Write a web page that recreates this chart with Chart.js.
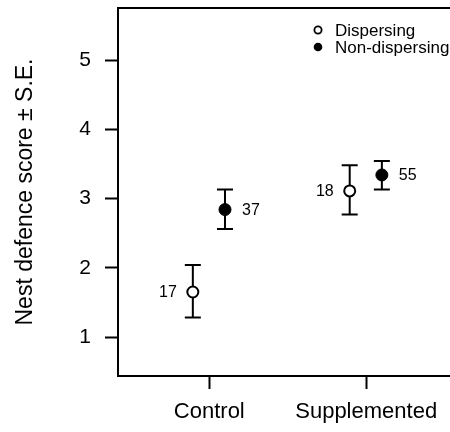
<!DOCTYPE html>
<html>
<head>
<meta charset="utf-8">
<script src="https://cdn.jsdelivr.net/npm/chart.js@4/dist/chart.umd.min.js"></script>
<style>
html,body{margin:0;padding:0;background:#fff;overflow:hidden;}
#wrap{width:450px;height:432px;position:relative;overflow:hidden;}
</style>
</head>
<body>
<div id="wrap"><canvas id="c" width="470" height="432"></canvas></div>
<script>
const categories = ['Control', 'Supplemented'];
const seriesNames = ['Dispersing', 'Non-dispersing'];
const dispersingMean = [1.65, 3.11];
const dispersingLow = [1.28, 2.77];
const dispersingHigh = [2.04, 3.48];
const dispersingN = [17, 18];
const nonDispersingMean = [2.84, 3.34];
const nonDispersingLow = [2.56, 3.13];
const nonDispersingHigh = [3.13, 3.54];
const nonDispersingN = [37, 55];
const yTicks = [1, 2, 3, 4, 5];

const FONT = "'Liberation Sans', Arial, sans-serif";
const dodge = [-0.105, 0.1];

function build(mean, low, high, n, k) {
  return categories.map((c, i) => ({ x: i + 1 + dodge[k], y: mean[i], low: low[i], high: high[i], n: n[i] }));
}
function zeroPad(s) { s.paddingTop = 0; s.paddingBottom = 0; s.paddingLeft = 0; s.paddingRight = 0; }

const errorPlugin = {
  id: 'errs',
  beforeDatasetsDraw(chart) {
    const ctx = chart.ctx, xs = chart.scales.x, ys = chart.scales.y;
    ctx.save();
    ctx.strokeStyle = '#000';
    ctx.lineWidth = 2;
    chart.data.datasets.forEach(ds => {
      ds.data.forEach(p => {
        const px = xs.getPixelForValue(p.x);
        const yl = ys.getPixelForValue(p.low), yh = ys.getPixelForValue(p.high);
        ctx.beginPath();
        ctx.moveTo(px, yl); ctx.lineTo(px, yh);
        ctx.moveTo(px - 8, yl); ctx.lineTo(px + 8, yl);
        ctx.moveTo(px - 8, yh); ctx.lineTo(px + 8, yh);
        ctx.stroke();
      });
    });
    ctx.restore();
  },
  afterDatasetsDraw(chart) {
    const ctx = chart.ctx, xs = chart.scales.x, ys = chart.scales.y, ca = chart.chartArea;
    ctx.save();
    ctx.strokeStyle = '#000';
    ctx.lineWidth = 2;
    ctx.beginPath();
    ctx.moveTo(ca.left - 1, ca.top);
    ctx.lineTo(ca.right + 2, ca.top);
    ctx.stroke();
    ctx.fillStyle = '#000';
    ctx.font = '16px ' + FONT;
    ctx.textBaseline = 'middle';
    chart.data.datasets.forEach((ds, k) => {
      ds.data.forEach(p => {
        const px = xs.getPixelForValue(p.x), py = ys.getPixelForValue(p.y);
        if (k === 0) { ctx.textAlign = 'right'; ctx.fillText(String(p.n), px - 16, py + 1); }
        else { ctx.textAlign = 'left'; ctx.fillText(String(p.n), px + 17, py + 1); }
      });
    });
    ctx.font = '17px ' + FONT;
    ctx.textAlign = 'left';
    const lx = 318, ly = [30, 47];
    chart.data.datasets.forEach((ds, k) => {
      ctx.beginPath();
      ctx.arc(lx, ly[k], k === 0 ? 3.6 : 4.3, 0, Math.PI * 2);
      if (k === 0) { ctx.fillStyle = '#fff'; ctx.fill(); ctx.lineWidth = 1.8; ctx.strokeStyle = '#000'; ctx.stroke(); }
      else { ctx.fillStyle = '#000'; ctx.fill(); }
      ctx.fillStyle = '#000';
      ctx.fillText(ds.label, 335, ly[k] + 1);
    });
    ctx.restore();
  }
};

new Chart(document.getElementById('c'), {
  type: 'scatter',
  data: {
    datasets: [
      { label: seriesNames[0], data: build(dispersingMean, dispersingLow, dispersingHigh, dispersingN, 0),
        pointRadius: 5.5, pointHoverRadius: 5.5, pointBackgroundColor: '#fff', pointBorderColor: '#000', pointBorderWidth: 2 },
      { label: seriesNames[1], data: build(nonDispersingMean, nonDispersingLow, nonDispersingHigh, nonDispersingN, 1),
        pointRadius: 6, pointHoverRadius: 6, pointBackgroundColor: '#000', pointBorderColor: '#000', pointBorderWidth: 1 }
    ]
  },
  options: {
    responsive: false,
    animation: false,
    events: [],
    layout: { padding: { top: 8, right: 0, left: 0, bottom: 0 } },
    plugins: { legend: { display: false }, tooltip: { enabled: false } },
    scales: {
      x: {
        type: 'linear',
        min: 0.418, max: 2.614,
        afterBuildTicks(s) { s.ticks = categories.map((c, i) => ({ value: i + 1 })); },
        afterFit(s) { s.height = 56; zeroPad(s); },
        ticks: {
          callback: (v) => categories[v - 1],
          color: '#000', font: { family: FONT, size: 22 }, padding: 10, maxRotation: 0, autoSkip: false
        },
        grid: { drawOnChartArea: false, drawTicks: true, tickLength: 13, tickColor: '#000', tickWidth: 2 },
        border: { display: true, color: '#000', width: 2 }
      },
      y: {
        min: 0.437, max: 5.751,
        afterBuildTicks(s) { s.ticks = yTicks.map(v => ({ value: v })); },
        afterFit(s) { s.width = 118; zeroPad(s); },
        ticks: { color: '#000', font: { family: FONT, size: 21 }, padding: 14 },
        grid: { drawOnChartArea: false, drawTicks: true, tickLength: 13, tickColor: '#000', tickWidth: 2 },
        border: { display: true, color: '#000', width: 2 },
        title: { display: true, text: 'Nest defence score ± S.E.', color: '#000', font: { family: FONT, size: 23 }, padding: { top: 12, bottom: 0 } }
      }
    }
  },
  plugins: [errorPlugin]
});
</script>
</body>
</html>
